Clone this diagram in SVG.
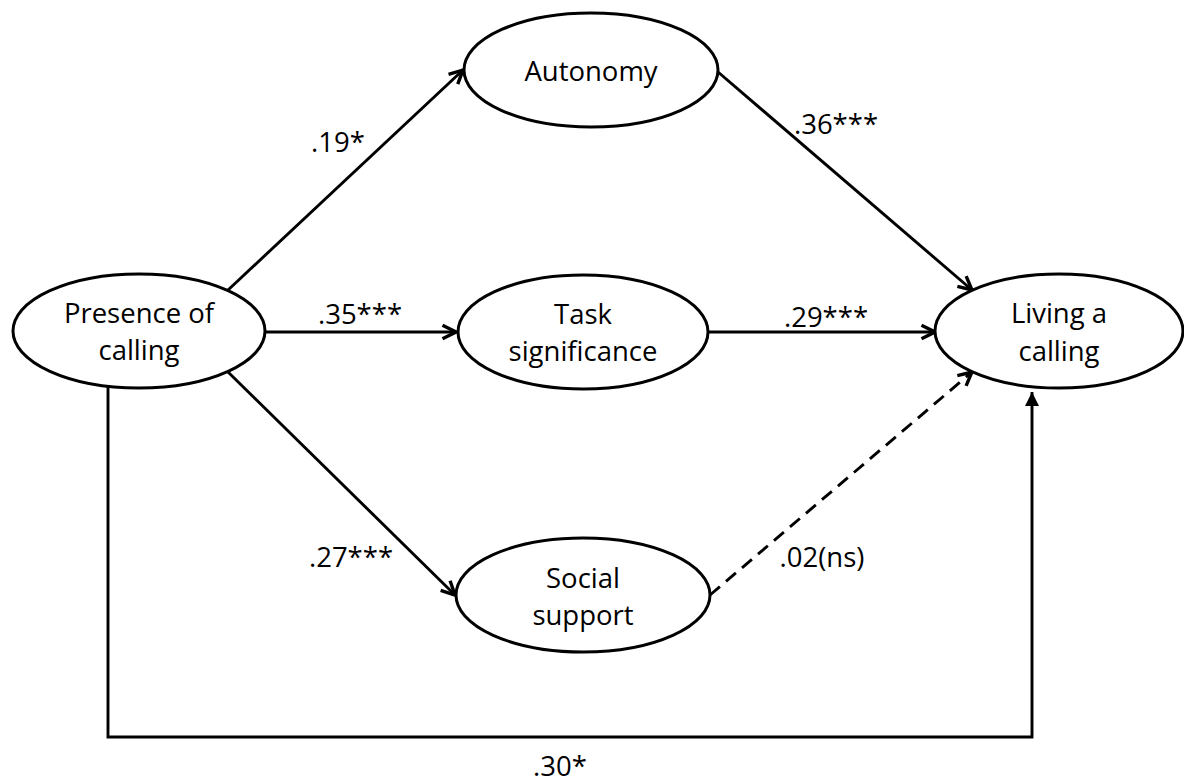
<svg xmlns="http://www.w3.org/2000/svg" width="1184" height="782" viewBox="0 0 1184 782">
<defs>
<style>
.node ellipse{fill:#fff;stroke:#000;stroke-width:3}
text{font-family:"Open Sans","Noto Sans","Liberation Sans",sans-serif;font-size:27.5px;fill:#000;text-anchor:middle}
.edge{fill:none;stroke:#000;stroke-width:2.9}
.dash{stroke-dasharray:13 8}
</style>
<marker id="open" markerUnits="userSpaceOnUse" markerWidth="18" markerHeight="18" viewBox="0 0 16 16" refX="14" refY="8" orient="auto">
<path d="M2,2 L14,8 L2,14" fill="none" stroke="#000" stroke-width="3"/>
</marker>
<marker id="solid" markerUnits="userSpaceOnUse" markerWidth="14" markerHeight="14" viewBox="0 0 12 12" refX="12" refY="6" orient="auto">
<path d="M0,0 L12,6 L0,12 z" fill="#000"/>
</marker>
</defs>
<rect width="1184" height="782" fill="#fff"/>
<g id="connectors">
<line class="edge" x1="227" y1="291" x2="463" y2="70" marker-end="url(#open)"/>
<line class="edge" x1="265" y1="332" x2="456" y2="332" marker-end="url(#open)"/>
<line class="edge" x1="227" y1="371" x2="455" y2="595" marker-end="url(#open)"/>
<line class="edge" x1="718" y1="72" x2="972" y2="290" marker-end="url(#open)"/>
<line class="edge" x1="708" y1="332" x2="935" y2="332" marker-end="url(#open)"/>
<line class="edge dash" x1="710" y1="595" x2="972" y2="372" marker-end="url(#open)"/>
<path class="edge" d="M108,386 V737 H1032 V392" stroke-width="3.5" marker-end="url(#solid)"/>
<text x="338" y="152">.19*</text>
<text x="360" y="324">.35***</text>
<text x="351" y="567">.27***</text>
<text x="836" y="134">.36***</text>
<text x="826" y="327">.29***</text>
<text x="822" y="567">.02(ns)</text>
<text x="560" y="776">.30*</text>
</g>
<g id="presence" class="node">
<ellipse cx="139" cy="331" rx="126" ry="57"/>
<text x="139" y="323">Presence of</text>
<text x="139" y="360">calling</text>
</g>
<g id="autonomy" class="node">
<ellipse cx="591" cy="70" rx="127" ry="57"/>
<text x="591" y="81">Autonomy</text>
</g>
<g id="task" class="node">
<ellipse cx="583" cy="332" rx="125" ry="57"/>
<text x="583" y="324">Task</text>
<text x="583" y="361">significance</text>
</g>
<g id="social" class="node">
<ellipse cx="583" cy="595" rx="127" ry="57"/>
<text x="583" y="588">Social</text>
<text x="583" y="625">support</text>
</g>
<g id="living" class="node">
<ellipse cx="1059" cy="331" rx="124" ry="57"/>
<text x="1059" y="323">Living a</text>
<text x="1059" y="361">calling</text>
</g>
</svg>
